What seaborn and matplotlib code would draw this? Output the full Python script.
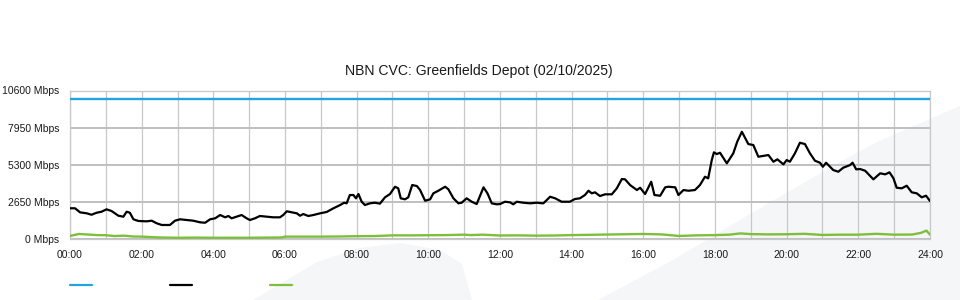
import numpy as np
import pandas as pd
import seaborn as sns
import matplotlib
matplotlib.use("Agg")
import matplotlib.pyplot as plt
from matplotlib.lines import Line2D
from matplotlib.patches import Polygon

# ---------------- data ----------------
title = "NBN CVC: Greenfields Depot (02/10/2025)"
x_tick_hours = list(range(0, 25, 2))
x_tick_labels = [f"{h:02d}:00" for h in x_tick_hours]
y_ticks = [0, 2650, 5300, 7950, 10600]
y_tick_labels = [f"{v} Mbps" for v in y_ticks]

capacity_t = [0, 24]
capacity_v = [10000, 10000]

traffic_t = [0, 0.14, 0.28, 0.47, 0.60, 0.74, 0.88, 1.02, 1.16, 1.35, 1.49, 1.58, 1.67, 1.77, 1.91,
             2.14, 2.28, 2.42, 2.56, 2.79, 2.93, 3.07, 3.26, 3.44, 3.63, 3.77, 3.91, 4.05, 4.19,
             4.33, 4.42, 4.51, 4.65, 4.79, 4.93, 5.02, 5.16, 5.30, 5.49, 5.67, 5.86, 5.95, 6.05,
             6.19, 6.33, 6.42, 6.51, 6.65, 6.79, 6.98, 7.16, 7.35, 7.54, 7.65, 7.72, 7.81, 7.91,
             7.98, 8.05, 8.14, 8.23, 8.37, 8.51, 8.65, 8.79, 8.93, 9.07, 9.16, 9.23, 9.35, 9.44,
             9.55, 9.68, 9.77, 9.91, 10.05, 10.14, 10.28, 10.47, 10.56, 10.70, 10.84, 10.93,
             11.07, 11.21, 11.35, 11.54, 11.65, 11.77, 11.91, 12.00, 12.14, 12.28, 12.37, 12.47,
             12.65, 12.84, 13.03, 13.12, 13.21, 13.40, 13.54, 13.72, 13.95, 14.09, 14.23, 14.37,
             14.47, 14.56, 14.65, 14.79, 14.93, 15.12, 15.26, 15.40, 15.49, 15.63, 15.82, 15.91,
             16.05, 16.22, 16.31, 16.47, 16.61, 16.70, 16.89, 16.98, 17.12, 17.26, 17.44, 17.58,
             17.72, 17.81, 17.91, 17.97, 18.05, 18.14, 18.33, 18.51, 18.62, 18.75, 18.93, 19.07,
             19.21, 19.49, 19.63, 19.74, 19.91, 20.00, 20.09, 20.23, 20.37, 20.51, 20.65, 20.79,
             20.93, 21.01, 21.10, 21.30, 21.44, 21.58, 21.77, 21.84, 21.94, 22.05, 22.19, 22.42,
             22.61, 22.75, 22.87, 22.98, 23.07, 23.21, 23.35, 23.49, 23.63, 23.77, 23.89, 24.00]
traffic_v = [2210, 2210, 1920, 1850, 1750, 1890, 1965, 2135, 2015, 1680, 1610, 1965, 1895, 1425, 1305,
             1280, 1325, 1140, 1020, 1020, 1325, 1425, 1375, 1325, 1210, 1180, 1425, 1495, 1730,
             1566, 1660, 1495, 1609, 1730, 1495, 1374, 1495, 1660, 1609, 1566, 1566, 1730, 1994,
             1922, 1851, 1680, 1801, 1660, 1730, 1851, 1944, 2207, 2442, 2606, 2563, 3154, 3154,
             2919, 3225, 2677, 2442, 2563, 2606, 2540, 2990, 3225, 3745, 3631, 2919, 2848, 2990,
             3866, 3795, 3510, 2748, 2848, 3275, 3460, 3745, 3560, 2919, 2563, 2606,
             2919, 2677, 2513, 3702, 3275, 2563, 2492, 2513, 2677, 2634, 2492, 2677,
             2606, 2563, 2606, 2580, 2563, 3033, 2919, 2677, 2677, 2869, 2919, 3154,
             3460, 3275, 3346, 3083, 3204, 3204, 3631, 4293, 4272, 3866, 3510, 3674,
             3225, 4101, 3154, 3104, 3702, 3745, 3702, 3154, 3510, 3460, 3510, 3866,
             4457, 4343, 5646, 6194, 6073, 6166, 5411, 6123, 6949, 7661, 6785, 6714,
             5881, 6002, 5525, 5696, 5340, 5646, 5525, 6123, 6878, 6785, 6123, 5596,
             5454, 5169, 5454, 4934, 4813, 5100, 5290, 5454, 4984, 5005, 4884, 4272,
             4699, 4628, 4770, 4343, 3674, 3631, 3816, 3346, 3275, 2990, 3104, 2727]

upload_t = [0, 0.25, 0.5, 0.75, 1.0, 1.25, 1.5, 1.75, 2.0, 2.5, 3.0, 3.5, 4.0, 4.5, 5.0, 5.9,
            6.0, 7.0, 7.5, 8.0, 8.5, 9.0, 9.5, 10.0, 10.5, 11.0, 11.2, 11.5, 12.0, 12.5, 13.0,
            13.5, 14.0, 14.5, 15.0, 15.5, 16.0, 16.5, 17.0, 17.5, 18.0, 18.4, 18.7, 19.0, 19.5,
            20.0, 20.5, 21.0, 21.5, 22.0, 22.5, 23.0, 23.5, 23.75, 23.9, 24.0]
upload_v = [240, 380, 340, 300, 290, 230, 260, 200, 190, 130, 110, 120, 110, 110, 110, 130,
            190, 190, 200, 220, 230, 280, 280, 290, 300, 330, 300, 330, 270, 280, 260,
            270, 300, 320, 340, 360, 380, 350, 240, 280, 300, 330, 420, 370, 350,
            360, 390, 310, 330, 330, 390, 330, 340, 460, 620, 330]

# ---------------- styling ----------------
sns.set_theme(style="white")
plt.rcParams['font.family'] = ['Liberation Sans', 'DejaVu Sans']

W, H = 960, 300
fig = plt.figure(figsize=(W / 100, H / 100), dpi=100)
fig.patch.set_facecolor("white")

# light background watermark shapes (figure pixel coords -> fractions)
def px(pts):
    return [(x / W, 1 - y / H) for x, y in pts]

shade = "#f5f6f8"
fig.patches.append(Polygon(px([(598, 300), (673, 260), (750, 214), (840, 162), (877, 142),
                               (960, 106), (960, 300)]), closed=True, transform=fig.transFigure,
                           facecolor=shade, edgecolor="none", zorder=-5))
fig.patches.append(Polygon(px([(253, 300), (317, 262), (360, 248), (400, 243), (440, 250),
                               (462, 264), (472, 300)]), closed=True, transform=fig.transFigure,
                           facecolor=shade, edgecolor="none", zorder=-5))

left, right = 70 / W, 930 / W
top, bottom = 1 - 90.5 / H, 1 - 239.3 / H
ax = fig.add_axes([left, bottom, right - left, top - bottom])
ax.set_facecolor("none")
ax.set_zorder(2)

blue = "#1fa6e0"
black = "#000000"
green = "#7dbf3a"

sns.lineplot(x=capacity_t, y=capacity_v, ax=ax, color=blue, lw=1.7, zorder=3)
sns.lineplot(x=upload_t, y=upload_v, ax=ax, color=green, lw=1.7, zorder=3)
sns.lineplot(x=traffic_t, y=traffic_v, ax=ax, color=black, lw=1.6, zorder=4)

ax.set_xlim(0, 24)
ax.set_ylim(0, 10600)
ax.set_xticks(x_tick_hours)
ax.set_xticklabels(x_tick_labels)
ax.set_xticks(range(0, 25), minor=True)
ax.set_yticks(y_ticks)
ax.set_yticklabels(y_tick_labels)
ax.tick_params(axis="both", which="both", length=0, labelsize=7.5, colors="#1a1a1a")
ax.tick_params(axis="y", pad=7.7)
ax.tick_params(axis="x", pad=8)
ax.grid(True, axis="x", which="both", color="#c8c8c8", lw=0.9, zorder=1)
ax.grid(True, axis="y", which="major", color="#bfbfbf", lw=1.4, zorder=1)
ax.set_xlabel("")
ax.set_ylabel("")
for s in ["left", "right", "top", "bottom"]:
    ax.spines[s].set_color("#c8c8c8")
    ax.spines[s].set_linewidth(0.9)

fig.text(478.5 / W, 1 - 75.5 / H, title, fontsize=10.1, color="#1a1a1a",
         ha="center", va="baseline")

# legend swatches (no labels)
for x0, c in [(70, blue), (170, black), (270, green)]:
    fig.add_artist(Line2D([x0 / W, (x0 + 22) / W], [1 - 285 / H, 1 - 285 / H],
                          transform=fig.transFigure, color=c, lw=1.6))

fig.savefig("out.png", dpi=100, facecolor="white")
